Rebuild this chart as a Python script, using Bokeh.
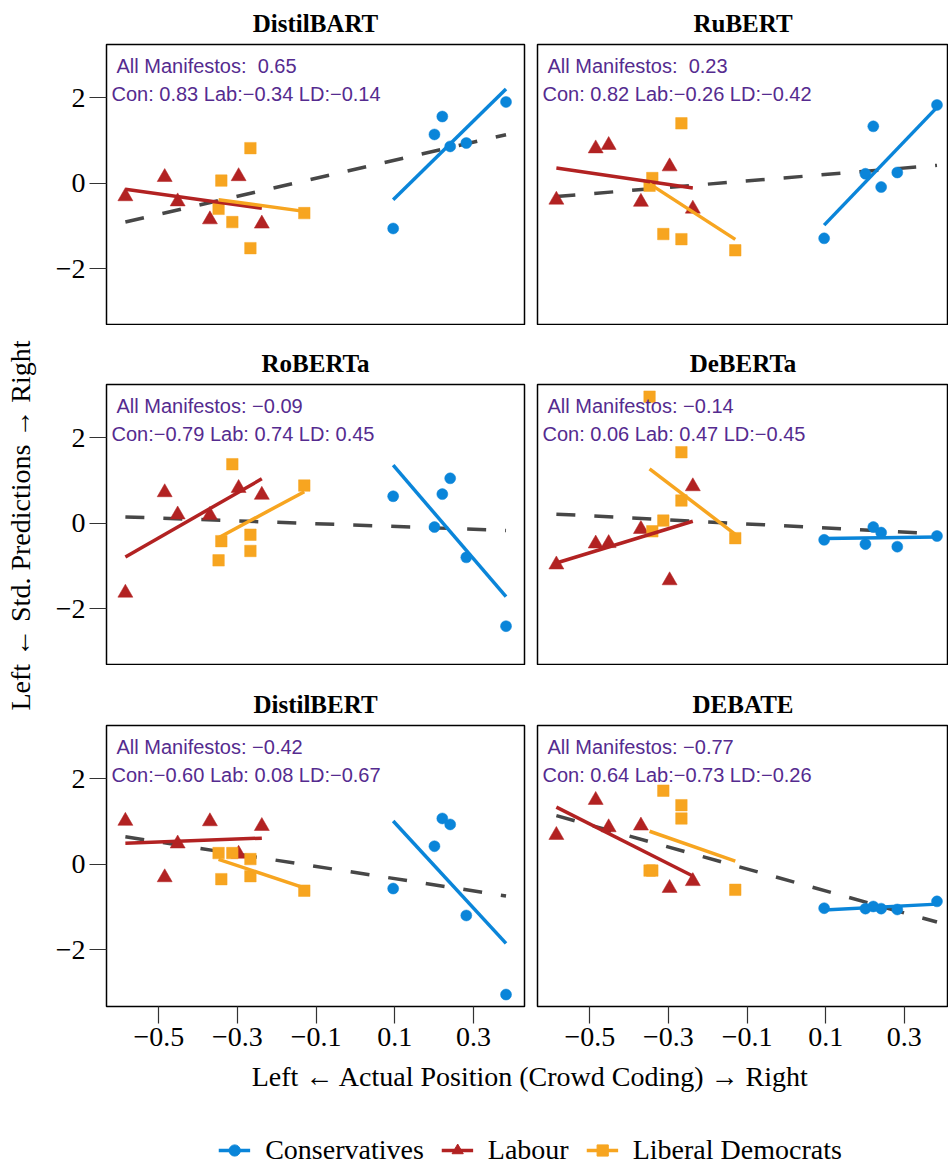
import numpy as np
from bokeh.plotting import figure
from bokeh.models import Range1d, FixedTicker, Label, Legend, LegendItem
from bokeh.layouts import row, column
from bokeh.embed import file_html
from bokeh.resources import INLINE

# ---------------- data ----------------
MODELS = ["DistilBART", "RuBERT", "RoBERTa", "DeBERTa", "DistilBERT", "DEBATE"]
PARTIES = ["Conservatives", "Labour", "Liberal Democrats"]

# actual positions (crowd coding), shared by all panels
CON_X = [0.096, 0.201, 0.221, 0.241, 0.282, 0.383]
LAB_X = [-0.585, -0.485, -0.452, -0.370, -0.297, -0.238]
LD_X = [-0.348, -0.341, -0.313, -0.267, -0.267, -0.130]

# standardised predictions per model
DISTILBART_CON = [-1.06, 1.14, 1.56, 0.86, 0.94, 1.90]
DISTILBART_LAB = [-0.31, 0.14, -0.43, -0.85, 0.16, -0.95]
DISTILBART_LD = [-0.60, 0.06, -0.91, 0.82, -1.52, -0.70]

RUBERT_CON = [-1.29, 0.22, 1.33, -0.09, 0.25, 1.83]
RUBERT_LAB = [-0.39, 0.81, 0.89, -0.44, 0.39, -0.60]
RUBERT_LD = [-0.06, 0.12, -1.19, 1.40, -1.31, -1.57]

ROBERTA_CON = [0.63, -0.09, 0.68, 1.05, -0.80, -2.41]
ROBERTA_LAB = [-1.63, 0.72, 0.20, 0.19, 0.82, 0.66]
ROBERTA_LD = [-0.87, -0.42, 1.38, -0.27, -0.65, 0.88]

DEBERTA_CON = [-0.39, -0.49, -0.09, -0.22, -0.55, -0.30]
DEBERTA_LAB = [-0.97, -0.48, -0.47, -0.14, -1.34, 0.86]
DEBERTA_LD = [2.96, -0.19, 0.06, 1.66, 0.53, -0.35]

DISTILBERT_CON = [-0.57, 0.42, 1.07, 0.93, -1.20, -3.05]
DISTILBERT_LAB = [1.01, -0.31, 0.48, 1.00, 0.24, 0.89]
DISTILBERT_LD = [0.26, -0.35, 0.26, 0.12, -0.28, -0.62]

DEBATE_CON = [-1.03, -1.04, -0.99, -1.04, -1.06, -0.87]
DEBATE_LAB = [0.68, 1.50, 0.86, 0.90, -0.56, -0.40]
DEBATE_LD = [-0.15, -0.15, 1.72, 1.38, 1.07, -0.60]

ALL_TEXT = ["All Manifestos: \u00a00.65", "All Manifestos: \u00a00.23", "All Manifestos: \u22120.09",
            "All Manifestos: \u22120.14", "All Manifestos: \u22120.42", "All Manifestos: \u22120.77"]
PARTY_TEXT = ["Con: 0.83 Lab:\u22120.34 LD:\u22120.14", "Con: 0.82 Lab:\u22120.26 LD:\u22120.42",
              "Con:\u22120.79 Lab: 0.74 LD: 0.45", "Con: 0.06 Lab: 0.47 LD:\u22120.45",
              "Con:\u22120.60 Lab: 0.08 LD:\u22120.67", "Con: 0.64 Lab:\u22120.73 LD:\u22120.26"]

X_TICKS = [-0.5, -0.3, -0.1, 0.1, 0.3]
X_TICK_LABELS = ["\u22120.5", "\u22120.3", "\u22120.1", "0.1", "0.3"]
Y_TICKS = [-2, 0, 2]
Y_TICK_LABELS = ["\u22122", "0", "2"]

PRED = {
    "DistilBART": (DISTILBART_CON, DISTILBART_LAB, DISTILBART_LD),
    "RuBERT": (RUBERT_CON, RUBERT_LAB, RUBERT_LD),
    "RoBERTa": (ROBERTA_CON, ROBERTA_LAB, ROBERTA_LD),
    "DeBERTa": (DEBERTA_CON, DEBERTA_LAB, DEBERTA_LD),
    "DistilBERT": (DISTILBERT_CON, DISTILBERT_LAB, DISTILBERT_LD),
    "DEBATE": (DEBATE_CON, DEBATE_LAB, DEBATE_LD),
}

# ---------------- style ----------------
COLORS = ["#0A85D9", "#B22222", "#F7A520"]
MARKERS = ["circle", "triangle", "square"]
SIZES = [11, 15, 11.5]
DASH_COLOR = "#474747"
TEXT_COLOR = "#552B8F"
SERIF = "Liberation Serif"
SANS = "Liberation Sans"

PX_PER_X = 393.2
PX_PER_Y = 42.75
X_START, X_END_L = -0.633, 0.430
X_END_R = X_START + 411 / PX_PER_X
Y_START, Y_END = -3.33, 3.245


def fit_line(xs, ys):
    b1, b0 = np.polyfit(np.asarray(xs, float), np.asarray(ys, float), 1)
    xx = [min(xs), max(xs)]
    return xx, [b0 + b1 * v for v in xx]


def make_panel(i):
    rowi, col = divmod(i, 2)
    left = col == 0
    bottom = rowi == 2
    top_b = [44, 59, 60][rowi]
    bot_b = 52 if bottom else 0
    bl = 54 if left else 7
    br = 6 if left else 0
    fw = 418 if left else 411
    p = figure(width=bl + fw + br, height=top_b + 281 + bot_b,
               x_range=Range1d(X_START, X_END_L if left else X_END_R),
               y_range=Range1d(Y_START, Y_END),
               output_backend="svg", toolbar_location=None,
               x_axis_location="below" if bottom else None,
               y_axis_location="left" if left else None,
               min_border_left=bl, min_border_right=br,
               min_border_top=top_b, min_border_bottom=bot_b,
               title=MODELS[i])
    p.title.align = "center"
    p.title.text_font = SERIF
    p.title.text_font_style = "bold"
    p.title.text_font_size = "25px"
    p.title.text_color = "black"
    p.title.standoff = 15
    p.outline_line_color = "black"
    p.outline_line_width = 1.5
    p.outline_line_alpha = 1.0
    p.grid.grid_line_color = None
    p.background_fill_color = "white"
    p.border_fill_color = "white"

    for ax in p.axis:
        ax.axis_line_color = None
        ax.major_tick_out = 17
        ax.major_tick_in = 0
        ax.minor_tick_line_color = None
        ax.major_tick_line_color = "#333333"
        ax.major_tick_line_width = 1.2
        ax.major_label_standoff = 4
        ax.major_label_text_font = SERIF
        ax.major_label_text_font_size = "28px"
        ax.major_label_text_color = "black"
    if bottom:
        p.xaxis.ticker = FixedTicker(ticks=X_TICKS)
        p.xaxis.major_label_overrides = dict(zip(X_TICKS, X_TICK_LABELS))
    if left:
        p.yaxis.ticker = FixedTicker(ticks=Y_TICKS)
        p.yaxis.major_label_overrides = dict(zip(Y_TICKS, Y_TICK_LABELS))

    xs_list = [CON_X, LAB_X, LD_X]
    ys_list = PRED[MODELS[i]]
    allx = CON_X + LAB_X + LD_X
    ally = list(ys_list[0]) + list(ys_list[1]) + list(ys_list[2])
    dx, dy = fit_line(allx, ally)
    p.line(dx, dy, line_color=DASH_COLOR, line_width=3.5, line_dash="19 19")
    for k in range(3):
        p.scatter(xs_list[k], ys_list[k], marker=MARKERS[k], size=SIZES[k],
                  fill_color=COLORS[k], line_color=COLORS[k], line_width=0.5)
    for k in range(3):
        fx, fy = fit_line(xs_list[k], ys_list[k])
        p.line(fx, fy, line_color=COLORS[k], line_width=3.5)

    p.add_layout(Label(x=X_START + 10 / PX_PER_X, y=Y_END - 22 / PX_PER_Y, text=ALL_TEXT[i],
                       text_font=SANS, text_font_size="20px", text_color=TEXT_COLOR,
                       text_baseline="alphabetic", text_align="left"))
    p.add_layout(Label(x=X_START + 5 / PX_PER_X, y=Y_END - 50 / PX_PER_Y, text=PARTY_TEXT[i],
                       text_font=SANS, text_font_size="20px", text_color=TEXT_COLOR,
                       text_baseline="alphabetic", text_align="left"))
    return p


panels = [make_panel(i) for i in range(6)]

# y-axis overall label
ylab = figure(width=52, height=1166, x_range=Range1d(0, 1), y_range=Range1d(0, 1),
              output_backend="svg", toolbar_location=None,
              x_axis_location=None, y_axis_location=None,
              min_border_left=0, min_border_right=0, min_border_top=44, min_border_bottom=160,
              title="Left \u2190 Std. Predictions \u2192 Right", title_location="left")
ylab.outline_line_color = None
ylab.grid.grid_line_color = None
ylab.title.align = "center"
ylab.title.text_font = SERIF
ylab.title.text_font_style = "normal"
ylab.title.text_font_size = "28px"
ylab.title.text_color = "black"
ylab.title.standoff = 4

# bottom: x label + legend
bot = figure(width=896, height=108, x_range=Range1d(0, 1), y_range=Range1d(0, 1),
             output_backend="svg", toolbar_location=None,
             x_axis_location=None, y_axis_location=None,
             min_border_left=60, min_border_right=0, min_border_top=0, min_border_bottom=0,
             title="Left \u2190 Actual Position (Crowd Coding) \u2192 Right")
bot.outline_line_color = None
bot.grid.grid_line_color = None
bot.title.align = "center"
bot.title.text_font = SERIF
bot.title.text_font_style = "normal"
bot.title.text_font_size = "28px"
bot.title.text_color = "black"
bot.title.standoff = 0

items = []
legend_x = [CON_X, LAB_X, LD_X]
legend_y = PRED["DEBATE"]
for k in range(3):
    lr = bot.line(legend_x[k], list(legend_y[k]), line_color=COLORS[k], line_width=3.5)
    sr = bot.scatter(legend_x[k], list(legend_y[k]), marker=MARKERS[k], size=SIZES[k],
                     fill_color=COLORS[k], line_color=COLORS[k])
    lr.visible = False
    sr.visible = False
    items.append(LegendItem(label=PARTIES[k], renderers=[lr, sr]))
legend = Legend(items=items, orientation="horizontal", location="bottom_center",
                glyph_width=32, glyph_height=28, label_standoff=15, spacing=17,
                padding=0, margin=0, border_line_color=None, background_fill_alpha=0,
                inactive_fill_alpha=0,
                label_text_font=SERIF, label_text_font_size="28px", label_text_color="black")
bot.add_layout(legend)

grid = column(row(panels[0], panels[1]), row(panels[2], panels[3]),
              row(panels[4], panels[5]), bot)
layout = row(ylab, grid)

open("out.html", "w").write(file_html(layout, INLINE))
